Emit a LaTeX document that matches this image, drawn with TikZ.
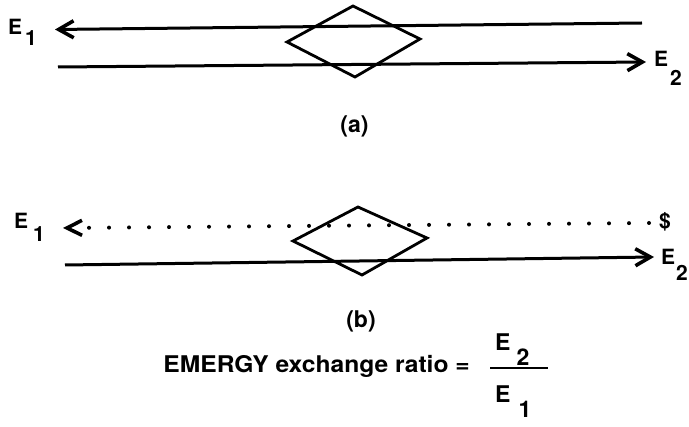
\documentclass[tikz,border=0pt]{standalone}
\usepackage{fontspec}
\setmainfont{TeX Gyre Heros}
\usetikzlibrary{arrows.meta}
\newcommand\Elab[3]{E\kern#3\raisebox{-#2}{#1}}
\begin{document}
\begin{tikzpicture}[x=1pt,y=-1pt,
  flow/.style={line width=3pt,-{Straight Barb[length=15pt,width=17pt,line width=3.6pt]}},
  dotflow/.style={line width=4pt,line cap=round,dash pattern=on 0pt off 20pt,
    -{Straight Barb[length=15pt,width=15pt,line width=3.6pt]}},
  exch/.style={line width=2.8pt,line join=miter},
  lbl/.style={font=\fontsize{21}{25}\selectfont\bfseries,inner sep=0pt,anchor=base west},
  frac/.style={font=\fontsize{23}{27}\selectfont\bfseries,inner sep=0pt,anchor=base west},
  captxt/.style={font=\fontsize{23}{27}\selectfont\bfseries,inner sep=0pt}
]
\useasboundingbox (0,0) rectangle (689,427);
% ---------- (a)
\node[lbl] (E1a) at (8,35) {\Elab{1}{11pt}{3pt}};
\node[lbl] (E2a) at (654,67) {\Elab{2}{19pt}{2pt}};
\coordinate (aTR) at (642,23);
\coordinate (aTL) at (55,29.5);
\coordinate (aBL) at (58,67);
\coordinate (aBR) at (646,62);
\draw[exch] (287,42) -- (353,6) -- (420,39) -- (355,77) -- cycle;
\draw[flow] (aTR) -- (aTL);
\draw[flow] (aBL) -- (aBR);
\node[captxt] (la) at (354.5,126) {(a)};
% ---------- (b)
\node[lbl] (E1b) at (14,229) {\Elab{1}{13pt}{5pt}};
\node[lbl] (E2b) at (661,265) {\Elab{2}{16pt}{1pt}};
\node[lbl] (dol) at (659,229) {\$};
\coordinate (bTR) at (649,223);
\coordinate (bTL) at (63,228);
\coordinate (bBL) at (65,265);
\coordinate (bBR) at (654,257);
\draw[exch] (293,241) -- (358,207) -- (427,238) -- (362,275) -- cycle;
\draw[dotflow] (bTR) -- (bTL);
\draw[flow] (bBL) -- (bBR);
\node[captxt] (lb) at (361,321) {(b)};
% ---------- ratio
\node[captxt,anchor=base east] (eq) at (470,373) {\scalebox{1.07}[1]{EMERGY exchange ratio =}};
\node[frac] (num) at (495,351) {\Elab{2}{15pt}{6pt}};
\node[frac] (den) at (495,403) {\Elab{1}{15pt}{8pt}};
\coordinate (fL) at (490,368);
\coordinate (fR) at (548,368);
\draw[line width=2.4pt] (fL) -- (fR);
\end{tikzpicture}
\end{document}
